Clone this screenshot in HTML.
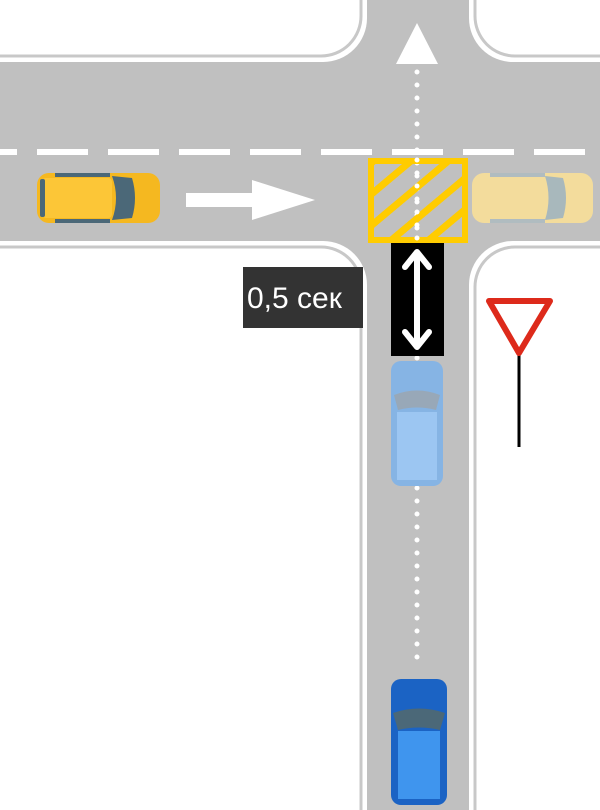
<!DOCTYPE html>
<html><head><meta charset="utf-8"><style>html,body{margin:0;padding:0;background:#fff;overflow:hidden;width:600px;height:810px}svg{display:block}</style></head>
<body>
<svg width="600" height="810" viewBox="0 0 600 810" xmlns="http://www.w3.org/2000/svg" overflow="hidden">
<defs>
<pattern id="hatch" patternUnits="userSpaceOnUse" width="24" height="24" patternTransform="rotate(-40)">
<rect x="0" y="0" width="24" height="7" fill="#ffcc00"/>
</pattern>
<clipPath id="boxclip"><rect x="371" y="161" width="94" height="79"/></clipPath>
</defs>
<rect width="600" height="810" fill="#c0c0c0"/>
<g fill="#fff">
<path d="M0,0 H367 V18 A44 44 0 0 1 323 62 H0Z"/>
<path d="M600,0 H469 V18 A44 44 0 0 0 513 62 H600Z"/>
<path d="M0,810 V241 H323 A44 44 0 0 1 367 285 V810Z"/>
<path d="M600,810 V241 H513 A44 44 0 0 0 469 285 V810Z"/>
</g>
<g fill="none" stroke="#c8c8c8" stroke-width="3">
<path d="M361,0 V16 A40 40 0 0 1 321 56 H0"/>
<path d="M475,0 V16 A40 40 0 0 0 515 56 H600"/>
<path d="M0,247 H321 A40 40 0 0 1 361 287 V810"/>
<path d="M600,247 H515 A40 40 0 0 0 475 287 V810"/>
</g>
<line x1="0" y1="152" x2="600" y2="152" stroke="#fff" stroke-width="6" stroke-dasharray="51 20" stroke-dashoffset="34"/>
<polygon points="417,23 396,64 438,64" fill="#fff"/>
<line x1="417" y1="72" x2="417" y2="670" stroke="#fff" stroke-width="5" stroke-linecap="round" stroke-dasharray="0 13"/>
<rect x="186" y="193" width="68" height="14" fill="#fff"/>
<polygon points="252,180 315,200 252,220" fill="#fff"/>
<g clip-path="url(#boxclip)"><rect x="371" y="161" width="94" height="79" fill="url(#hatch)"/></g>
<rect x="371" y="161" width="94" height="79" fill="none" stroke="#ffcc00" stroke-width="6"/>
<line x1="417" y1="160" x2="417" y2="242" stroke="#fff" stroke-width="5" stroke-linecap="round" stroke-dasharray="0 13"/>
<rect x="391" y="243" width="53" height="113" fill="#000"/>
<line x1="417" y1="252" x2="417" y2="347" stroke="#fff" stroke-width="6"/>
<polyline points="405,267 417,252 429,267" fill="none" stroke="#fff" stroke-width="6" stroke-linecap="round" stroke-linejoin="round"/>
<polyline points="405,332 417,347 429,332" fill="none" stroke="#fff" stroke-width="6" stroke-linecap="round" stroke-linejoin="round"/>
<rect x="243" y="267" width="120" height="61" fill="#333"/>
<text x="247" y="308" font-family="Liberation Sans, sans-serif" font-size="30" fill="#fff">0,5 сек</text>
<rect x="517.5" y="350" width="3" height="97" fill="#000"/>
<polygon points="489,301 550,301 519,353" fill="#fff" stroke="#dd2a1b" stroke-width="6" stroke-linejoin="round"/>
<g>
<rect x="37" y="173" width="123" height="50" rx="12" fill="#f5b820"/>
<rect x="42" y="178" width="70" height="40" rx="4" fill="#fcc637"/>
<path d="M112,176 L132,178 Q138,198 132,218 L112,220 Q120,198 112,176Z" fill="#4b6878"/>
<rect x="40" y="179" width="5" height="38" rx="2" fill="#4b6878"/>
<rect x="55" y="173" width="55" height="4" fill="#4b6878"/>
<rect x="55" y="219" width="55" height="4" fill="#4b6878"/>
</g>
<g>
<rect x="472" y="173" width="121" height="50" rx="12" fill="#f3dc9c"/>
<path d="M545,176 L563,178 Q569,198 563,218 L545,220 Q552,198 545,176Z" fill="#a8b8bc"/>
<rect x="490" y="173" width="55" height="4" fill="#b0bcc0"/>
<rect x="490" y="219" width="55" height="4" fill="#b0bcc0"/>
</g>
<g>
<rect x="391" y="361" width="52" height="125" rx="10" fill="#86b4e4"/>
<path d="M394,395 Q417,386 440,395 L436,410 Q417,405 398,410Z" fill="#98a8b8"/>
<rect x="397" y="412" width="40" height="68" fill="#9cc6f2"/>
</g>
<g>
<rect x="391" y="679" width="56" height="126" rx="10" fill="#1b63c4"/>
<path d="M393,713 Q419,704 445,713 L440,730 Q419,725 398,730Z" fill="#4b6878"/>
<rect x="398" y="731" width="42" height="68" fill="#3f95ee"/>
</g>
</svg>
</body></html>
